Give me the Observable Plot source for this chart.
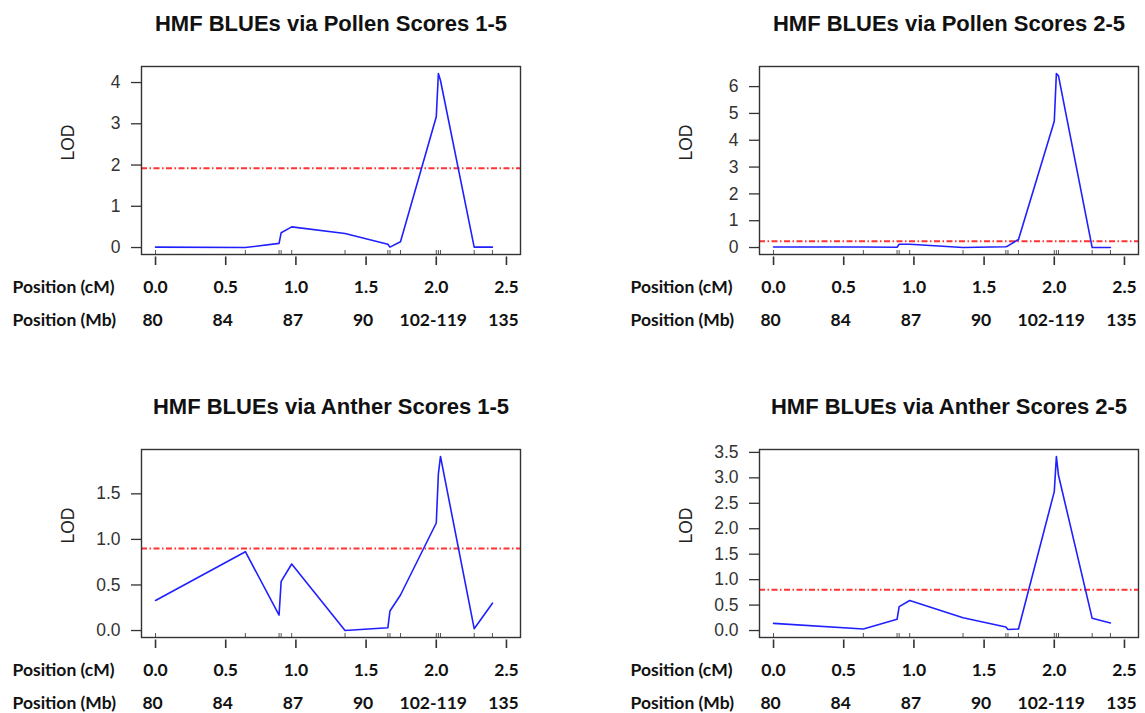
<!DOCTYPE html>
<html><head><meta charset="utf-8">
<script src="https://cdn.jsdelivr.net/npm/d3@7"></script>
<script src="https://cdn.jsdelivr.net/npm/@observablehq/plot@0.6"></script>
<style>
body{margin:0;background:#fff;}
#wrap{position:relative;width:1145px;height:713px;overflow:hidden;background:#fff;}
.panel{position:absolute;}
.panel svg{overflow:visible;}
</style></head><body><div id="wrap"></div>
<script>
// Marker positions (cM) along the chromosome
const markers = [0, 0.64, 0.88, 0.895, 0.97, 1.35, 1.655, 1.67, 1.745, 2.0, 2.015, 2.03, 2.27, 2.40];

// LOD scores at each marker, one array per trait
const lodPollen15 = [0.01, 0.0, 0.1, 0.36, 0.5, 0.34, 0.08, 0.01, 0.14, 3.17, 4.22, 4.05, 0.01, 0.01];
const lodPollen25 = [0.02, 0.02, 0.01, 0.12, 0.12, 0.0, 0.03, 0.06, 0.3, 4.71, 6.49, 6.4, 0.0, 0.0];
const lodAnther15 = [0.33, 0.865, 0.17, 0.54, 0.73, 0.0, 0.03, 0.215, 0.39, 1.18, 1.72, 1.91, 0.02, 0.30];
const lodAnther25 = [0.14, 0.03, 0.22, 0.47, 0.59, 0.25, 0.07, 0.02, 0.03, 2.73, 3.42, 3.05, 0.24, 0.15];

// Significance thresholds
const thrPollen15 = 1.92;
const thrPollen25 = 0.23;
const thrAnther15 = 0.90;
const thrAnther25 = 0.80;

// Titles
const titles = [
  "HMF BLUEs via Pollen Scores 1-5",
  "HMF BLUEs via Pollen Scores 2-5",
  "HMF BLUEs via Anther Scores 1-5",
  "HMF BLUEs via Anther Scores 2-5"
];

// Axis tick values / labels
const yTicksPollen15 = [0, 1, 2, 3, 4];
const yTicksPollen25 = [0, 1, 2, 3, 4, 5, 6];
const yTicksAnther15 = [0, 0.5, 1, 1.5];
const yTicksAnther25 = [0, 0.5, 1, 1.5, 2, 2.5, 3, 3.5];
const cmTicks = [0, 0.5, 1, 1.5, 2, 2.5];
const cmLabels = ["0.0", "0.5", "1.0", "1.5", "2.0", "2.5"];
const mbLabels = ["80", "84", "87", "90", "102-119", "135"];
const rowLabels = ["Position (cM)", "Position (Mb)"];

const bottomTable = cmTicks.map((v, i) => ({cm: v, cmLabel: cmLabels[i], mb: mbLabels[i]}));

function panel(lod, thr, yTicks, fmt, title) {
  const data = markers.map((x, i) => ({x, lod: lod[i]}));
  const maxLod = d3.max(lod);
  const boldFont = "Lato, 'Open Sans', sans-serif";
  const rowStyle = {fontFamily: boldFont, fontWeight: "bold", fontSize: 17.5, fill: "#111", lineAnchor: "middle"};
  return Plot.plot({
    width: 526, height: 330,
    marginTop: 66, marginBottom: 76, marginLeft: 141, marginRight: 6,
    style: {fontFamily: "'Liberation Sans', Arial, sans-serif", fontSize: "17px", color: "#222", background: "transparent", overflow: "visible"},
    x: {domain: [-0.1, 2.6]},
    y: {domain: [-0.04 * maxLod, 1.04 * maxLod]},
    marks: [
      Plot.axisY({ticks: yTicks, tickFormat: fmt, tickSize: 10, tickPadding: 11, fontSize: 17.5, label: null, color: "#333", strokeWidth: 1.3}),
      Plot.axisX({ticks: cmTicks, tickSize: 8.5, dy: 2.5, tickFormat: () => "", label: null, color: "#333", strokeWidth: 1.6}),
      Plot.tickX(markers, {x: d => d, insetTop: 184, stroke: "#555", strokeWidth: 1}),
      Plot.ruleY([thr], {stroke: "#ff3333", strokeWidth: 2, strokeDasharray: "6,2.5,1.5,2.5"}),
      Plot.line(data, {x: "x", y: "lod", stroke: "#2020ff", strokeWidth: 1.6}),
      Plot.frame({stroke: "#333", strokeWidth: 1.4}),
      Plot.text([title], {frameAnchor: "top", dy: -42.5, lineAnchor: "middle", fontSize: 22, fontWeight: "bold", fill: "#111"}),
      Plot.text(["LOD"], {frameAnchor: "left", dx: -73, rotate: -90, fontSize: 17.5, fill: "#222"}),
      Plot.text(bottomTable, {x: "cm", text: "cmLabel", frameAnchor: "bottom", dy: 33, ...rowStyle}),
      Plot.text(bottomTable, {x: "cm", text: "mb", frameAnchor: "bottom", dy: 65.5, dx: -3, ...rowStyle}),
      Plot.text([rowLabels[0]], {frameAnchor: "bottom-left", dx: -129, dy: 33, textAnchor: "start", ...rowStyle}),
      Plot.text([rowLabels[1]], {frameAnchor: "bottom-left", dx: -129, dy: 65.5, textAnchor: "start", ...rowStyle})
    ]
  });
}

const wrap = document.getElementById("wrap");
const specs = [
  [lodPollen15, thrPollen15, yTicksPollen15, "d", titles[0], 0, 0],
  [lodPollen25, thrPollen25, yTicksPollen25, "d", titles[1], 618, 0],
  [lodAnther15, thrAnther15, yTicksAnther15, ".1f", titles[2], 0, 383],
  [lodAnther25, thrAnther25, yTicksAnther25, ".1f", titles[3], 618, 383]
];
for (const [lod, thr, yt, fmt, title, left, top] of specs) {
  const div = document.createElement("div");
  div.className = "panel";
  div.style.left = left + "px";
  div.style.top = top + "px";
  div.appendChild(panel(lod, thr, yt, fmt, title));
  wrap.appendChild(div);
}
</script>
</body></html>
